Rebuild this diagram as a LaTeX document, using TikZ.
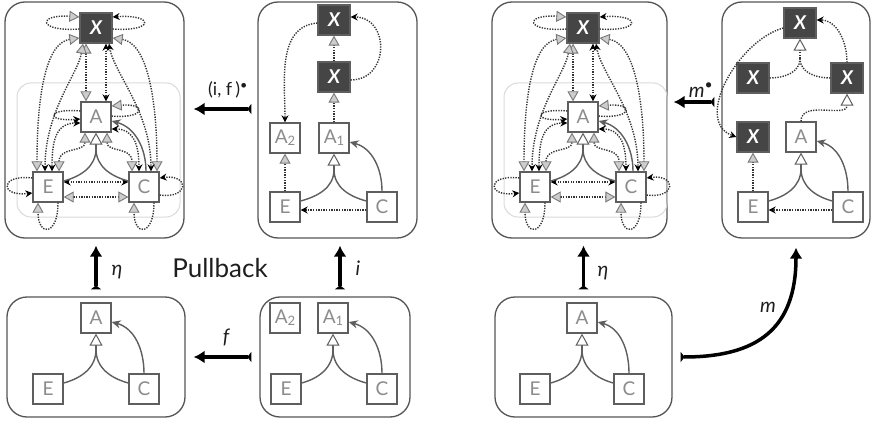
\documentclass[tikz,border=0pt]{standalone}
\usepackage{fontspec}
\setmainfont{Lato}
\usetikzlibrary{arrows.meta}
\definecolor{panelGray}{HTML}{555555}
\definecolor{boxGray}{HTML}{5E5E5E}
\definecolor{textGray}{HTML}{8C8C8C}
\definecolor{darkBox}{HTML}{454545}
\definecolor{dotGray}{HTML}{333333}
\definecolor{tipEdge}{HTML}{777777}
\definecolor{tipFill}{HTML}{CDCDCD}
\definecolor{innerGray}{HTML}{DADADA}
\definecolor{labelBlack}{HTML}{1E1E1E}
\newcommand{\lowidx}[1]{\raisebox{-2pt}{\fontsize{13}{13}\selectfont #1}}
\tikzset{
  panel/.style={draw=panelGray, line width=1.3pt, rounded corners=20pt, inner sep=0pt},
  cls/.style={draw=boxGray, fill=white, line width=1.3pt, minimum size=30pt, inner sep=0pt,
    text=textGray, font=\fontsize{19}{19}\selectfont},
  dark/.style={draw=boxGray, fill=darkBox, line width=1.3pt, minimum width=32pt, minimum height=30pt,
    inner sep=0pt, text=white, font=\fontsize{19}{19}\selectfont\bfseries\itshape},
  dots/.style={draw=dotGray, line width=1.4pt, dash pattern=on 1.3pt off 1.3pt},
  isa/.style={draw=boxGray, line width=1.4pt},
  gh/.tip={Triangle[length=10pt,width=11pt,color=tipEdge,fill=tipFill,line width=0.9pt]},
  bh/.tip={Stealth[length=7pt,width=7pt,color=black]},
  wt/.tip={Triangle[length=12pt,width=13pt,color=boxGray,fill=white,line width=1pt]},
  sh/.tip={Stealth[length=9pt,width=8pt]},
  big/.style={draw=black, line width=3.5pt,
    {Triangle[reversed,length=4pt,width=10pt]}-{Latex[length=11pt,width=13pt]}},
  lbl/.style={text=labelBlack, font=\fontsize{20}{20}\selectfont\itshape}
}
\begin{document}
\begin{tikzpicture}[x=1pt,y=1pt]
  \useasboundingbox (0,0) rectangle (872,-422);

  % Top row panels.
  \node[panel, minimum width=179pt, minimum height=236pt] (ltop) at (94.5,-120) {};
  \node[panel, minimum width=159pt, minimum height=236pt] (mtop) at (337.5,-120) {};
  \node[panel, minimum width=175pt, minimum height=236pt] (rtop) at (579.5,-120) {};
  \node[panel, minimum width=148pt, minimum height=236pt] (ftop) at (796,-120) {};
  % Bottom row panels.
  \node[panel, minimum width=178pt, minimum height=120pt] (lbot) at (96,-357) {};
  \node[panel, minimum width=150pt, minimum height=120pt] (mbot) at (335,-357) {};
  \node[panel, minimum width=177pt, minimum height=120pt] (rbot) at (583.5,-357) {};

  % Full models (left and right).
  \foreach \p/\dx in {l/0, r/487}{
    \begin{scope}[xshift=\dx pt]
      \draw[innerGray, line width=1pt, rounded corners=14pt] (17,-83) rectangle (180,-217);
      \node[dark] (\p x) at (96,-28) {X};
      \node[cls] (\p a) at (96,-117) {A};
      \node[cls] (\p e) at (48,-187) {E};
      \node[cls] (\p c) at (144,-187) {C};
      % X and A.
      \draw[dots, gh-gh] ([xshift=-10pt]\p x.south) -- ([xshift=-10pt]\p a.north);
      \draw[dots, bh-bh] ([xshift=10pt]\p x.south) -- ([xshift=10pt]\p a.north);
      % X and E, X and C.
      \draw[dots, gh-gh] ([yshift=-10pt]\p x.west) .. controls +(-35,-5) and +(0,70) .. ([xshift=-11pt]\p e.north);
      \draw[dots, gh-bh] ([xshift=-13pt]\p x.south) .. controls +(-5,-30) and +(0,60) .. ([xshift=-3pt]\p e.north);
      \draw[dots, gh-gh] ([yshift=-10pt]\p x.east) .. controls +(35,-5) and +(0,70) .. ([xshift=13pt]\p c.north);
      \draw[dots, bh-bh] ([xshift=13pt]\p x.south) .. controls +(5,-30) and +(0,60) .. ([xshift=7pt]\p c.north);
      % A and E, A and C.
      \draw[dots, gh-gh] ([xshift=-11pt]\p a.south) .. controls +(0,-20) and +(0,25) .. ([xshift=11pt]\p e.north);
      \draw[dots, bh-bh] ([yshift=-6pt]\p a.west) .. controls +(-25,0) and +(0,30) .. ([xshift=4pt]\p e.north);
      \draw[dots, gh-gh] ([xshift=11pt]\p a.south) .. controls +(0,-20) and +(0,25) .. ([xshift=-12pt]\p c.north);
      \draw[dots, bh-bh] ([yshift=-12pt]\p a.east) .. controls +(20,0) and +(0,30) .. ([xshift=-5pt]\p c.north);
      % E and C.
      \draw[dots, bh-bh] ([yshift=5pt]\p e.east) -- ([yshift=5pt]\p c.west);
      \draw[dots, gh-gh] ([yshift=-10pt]\p e.east) -- ([yshift=-10pt]\p c.west);
      % Self loops.
      \draw[dots, -gh] ([yshift=-1pt]\p x.west) .. controls +(-42,-3) and +(-42,3) .. ([yshift=11pt]\p x.west);
      \draw[dots, -bh] ([yshift=-1pt]\p x.east) .. controls +(42,-3) and +(42,3) .. ([yshift=11pt]\p x.east);
      \draw[dots, -bh] ([yshift=6pt]\p a.west) .. controls +(-35,3) and +(-35,-3) .. ([yshift=-2pt]\p a.west);
      \draw[dots, -gh] ([yshift=1pt]\p a.east) .. controls +(35,-3) and +(35,3) .. ([yshift=11pt]\p a.east);
      \draw[dots, -bh] ([yshift=9pt]\p e.west) .. controls +(-33,4) and +(-33,-4) .. ([yshift=-6pt]\p e.west);
      \draw[dots, -gh] ([xshift=10pt]\p e.south) .. controls +(0,-34) and +(0,-34) .. ([xshift=-10pt]\p e.south);
      \draw[dots, -bh] ([yshift=-8pt]\p c.east) .. controls +(30,-4) and +(30,4) .. ([yshift=9pt]\p c.east);
      \draw[dots, -gh] ([xshift=10pt]\p c.south) .. controls +(0,-34) and +(0,-34) .. ([xshift=-10pt]\p c.south);
      % Inheritance.
      \coordinate (\p j) at ([yshift=-16pt]\p a.south);
      \draw[isa] ([yshift=6pt]\p e.east) to[out=15, in=-90] (\p j);
      \draw[isa] ([yshift=6pt]\p c.west) to[out=165, in=-90] (\p j);
      \draw[isa, -wt] (\p j) -- (\p a.south);
      \draw[isa, -sh] ([xshift=2pt]\p c.north) to[out=90, in=-15] ([yshift=-4pt]\p a.east);
    \end{scope}
  }

  % Middle top model.
  \node[dark] (mxt) at (334,-20) {X};
  \node[dark] (mxm) at (334,-77) {X};
  \node[cls] (matwo) at (285,-138) {A\lowidx{2}};
  \node[cls] (maone) at (334,-138) {A\lowidx{1}};
  \node[cls] (me) at (285,-207) {E};
  \node[cls] (mc) at (382,-207) {C};
  \draw[dots, -gh] (mxm) -- (mxt);
  \draw[dots, -gh] (maone) -- (mxm);
  \draw[dots, -gh] (me) -- (matwo);
  \draw[dots, -bh] ([yshift=-3pt]mc.west) -- ([yshift=-3pt]me.east);
  \draw[dots, -bh] ([yshift=-3pt]mxt.west) to[out=185, in=90] (matwo.north);
  \draw[dots, -bh] ([yshift=-3pt]mxm.east) to[out=0, in=0, looseness=1.6] ([yshift=3pt]mxt.east);
  \coordinate (mj) at ([yshift=-16pt]maone.south);
  \draw[isa] ([yshift=6pt]me.east) to[out=15, in=-90] (mj);
  \draw[isa] ([yshift=6pt]mc.west) to[out=165, in=-90] (mj);
  \draw[isa, -wt] (mj) -- (maone.south);
  \draw[isa, -sh] (mc.north) to[out=90, in=-15] ([yshift=-4pt]maone.east);

  % Far right top model.
  \node[dark] (fxt) at (800,-23) {X};
  \node[dark] (fxl) at (753,-78) {X};
  \node[dark] (fxr) at (847,-78) {X};
  \node[dark] (fxb) at (753,-137) {X};
  \node[cls] (fa) at (801,-137) {A};
  \node[cls] (fe) at (753,-207) {E};
  \node[cls] (fc) at (848,-207) {C};
  \coordinate (fjx) at ([yshift=-20pt]fxt.south);
  \draw[dots] (fxl.east) to[out=0, in=-90] (fjx);
  \draw[dots] (fxr.west) to[out=180, in=-90] (fjx);
  \draw[dots, -wt] (fjx) -- (fxt.south);
  \draw[dots, -bh] (fxr.north) to[out=90, in=0] ([yshift=3pt]fxt.east);
  \draw[dots, -wt] (fa.north) .. controls +(0,22) and +(0,-25) .. (fxr.south);
  \draw[dots, -bh] ([yshift=-5pt]fxt.west) to[out=195, in=160] (fxb.west);
  \draw[dots, -gh] (fe) -- (fxb);
  \draw[dots, -bh] ([yshift=-3pt]fc.west) -- ([yshift=-3pt]fe.east);
  \coordinate (fj) at ([yshift=-16pt]fa.south);
  \draw[isa] ([yshift=6pt]fe.east) to[out=15, in=-90] (fj);
  \draw[isa] ([yshift=6pt]fc.west) to[out=165, in=-90] (fj);
  \draw[isa, -wt] (fj) -- (fa.south);
  \draw[isa, -sh] (fc.north) to[out=90, in=-15] ([yshift=-4pt]fa.east);

  % Bottom models.
  \node[cls] (lba) at (96,-318) {A};
  \node[cls] (lbe) at (48,-389) {E};
  \node[cls] (lbc) at (144,-389) {C};
  \coordinate (lbj) at ([yshift=-16pt]lba.south);
  \draw[isa] ([yshift=6pt]lbe.east) to[out=15, in=-90] (lbj);
  \draw[isa] ([yshift=6pt]lbc.west) to[out=165, in=-90] (lbj);
  \draw[isa, -wt] (lbj) -- (lba.south);
  \draw[isa, -sh] (lbc.north) to[out=90, in=-15] ([yshift=-4pt]lba.east);

  \node[cls] (mbatwo) at (285,-318) {A\lowidx{2}};
  \node[cls] (mbaone) at (333,-318) {A\lowidx{1}};
  \node[cls] (mbe) at (286,-389) {E};
  \node[cls] (mbc) at (382,-389) {C};
  \coordinate (mbj) at ([yshift=-16pt]mbaone.south);
  \draw[isa] ([yshift=6pt]mbe.east) to[out=15, in=-90] (mbj);
  \draw[isa] ([yshift=6pt]mbc.west) to[out=165, in=-90] (mbj);
  \draw[isa, -wt] (mbj) -- (mbaone.south);
  \draw[isa, -sh] (mbc.north) to[out=90, in=-15] ([yshift=-4pt]mbaone.east);

  \node[cls] (rba) at (582,-318) {A};
  \node[cls] (rbe) at (535,-389) {E};
  \node[cls] (rbc) at (629,-389) {C};
  \coordinate (rbj) at ([yshift=-16pt]rba.south);
  \draw[isa] ([yshift=6pt]rbe.east) to[out=15, in=-90] (rbj);
  \draw[isa] ([yshift=6pt]rbc.west) to[out=165, in=-90] (rbj);
  \draw[isa, -wt] (rbj) -- (rba.south);
  \draw[isa, -sh] (rbc.north) to[out=90, in=-15] ([yshift=-4pt]rba.east);

  % Morphisms.
  \draw[big, shorten <=7pt, shorten >=7pt] (lbot.north) -- (lbot.north |- ltop.south);
  \draw[big, shorten <=7pt, shorten >=7pt] ([xshift=5pt]mbot.north) -- ([xshift=5pt]mbot.north |- mtop.south);
  \draw[big, shorten <=8pt, shorten >=8pt] (mbot.west) -- (mbot.west -| lbot.east);
  \draw[big, shorten <=6pt, shorten >=9pt] ([yshift=11pt]mtop.west) -- ([yshift=11pt]mtop.west -| ltop.east);
  \draw[big, shorten <=7pt, shorten >=7pt] (rbot.north) -- (rbot.north |- rtop.south);
  \draw[big, shorten <=7pt, shorten >=6pt] ([yshift=18pt]ftop.west) -- ([yshift=18pt]ftop.west -| rtop.east);
  \draw[big, shorten <=8pt, shorten >=9pt] (rbot.east) .. controls +(85,0) and +(0,-90) .. (ftop.south);

  % Labels.
  \node[lbl] (etal) at (117,-272) {η};
  \node[lbl] (il) at (358,-268) {i};
  \node[lbl] (fl) at (226,-337) {f};
  \node[lbl] (etar) at (603,-273) {η};
  \node[lbl] (ml) at (768,-307) {m};
  \node[text=labelBlack, font=\fontsize{18}{18}\selectfont] (ifl) at (228,-90) {(i, f\,)\textsuperscript{•}};
  \node[lbl] (mdl) at (701,-90) {m\textsuperscript{\upshape •}};
  \node[text=labelBlack, font=\fontsize{26}{26}\selectfont] (pb) at (220,-268) {Pullback};
\end{tikzpicture}
\end{document}
